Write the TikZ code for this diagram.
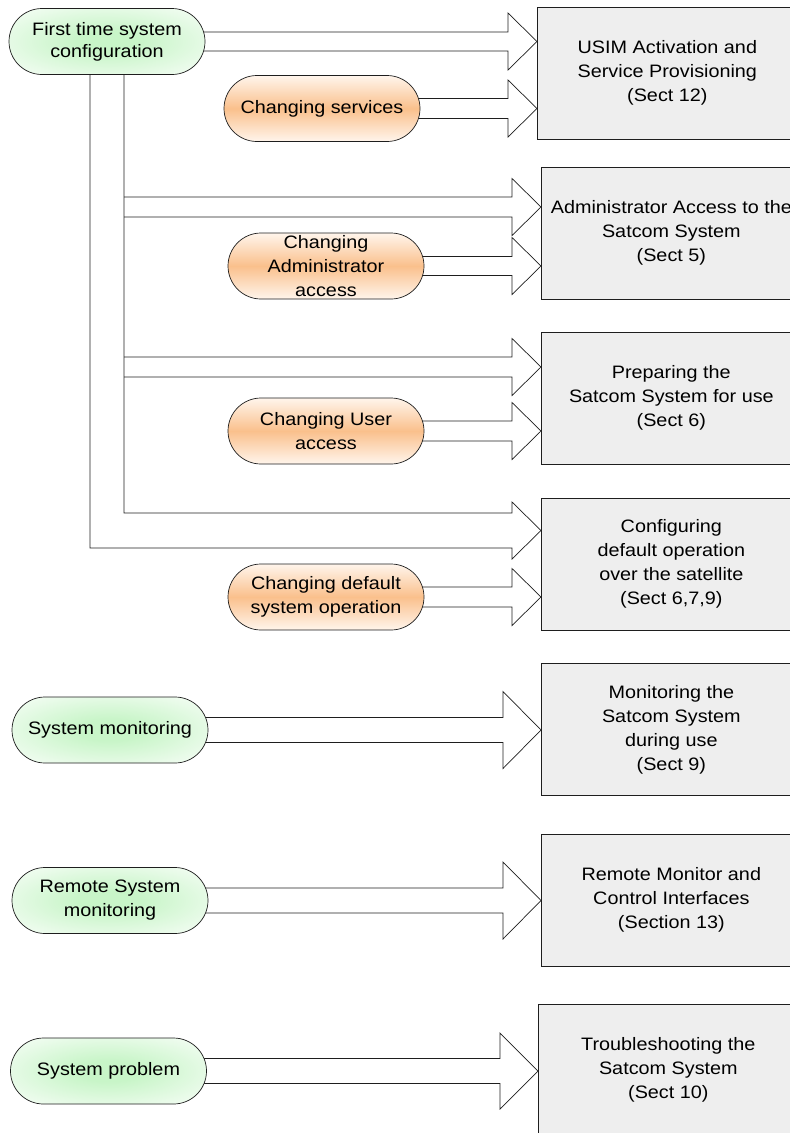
\documentclass[tikz,border=0pt]{standalone}
\usepackage{fontspec}
\setmainfont[FakeStretch=1.1]{Liberation Sans}
\usetikzlibrary{calc,backgrounds}
\definecolor{boxgray}{RGB}{238,238,238}
\definecolor{greenin}{RGB}{200,245,200}
\definecolor{orangemid}{RGB}{250,192,140}
\definecolor{orangeedge}{RGB}{255,245,236}
\definecolor{linec}{RGB}{30,30,30}
\pgfdeclareradialshading{greenglow}{\pgfpoint{0bp}{0bp}}{%
  color(0bp)=(greenin); color(8bp)=(greenin); color(24bp)=(greenin!50!white);
  color(40bp)=(white); color(50bp)=(white)}
\newcommand{\blockarr}[5]{%
  \draw[blk] let \p1=(#1), \p2=(#2.west) in
    (\x1,{\y1+#3pt}) -- ({\x2-#5pt},{\y1+#3pt}) -- ({\x2-#5pt},{\y1+#4pt})
    -- (\x2,\y1) -- ({\x2-#5pt},{\y1-#4pt}) -- ({\x2-#5pt},{\y1-#3pt})
    -- (\x1,{\y1-#3pt});}
\begin{document}
\begin{tikzpicture}[x=1pt,y=-1pt,
  txt/.style={font=\fontsize{18}{24}\selectfont, align=center, text=black},
  startnode/.style={txt, draw=linec, line width=0.7pt, rounded corners=33pt,
    minimum width=196pt, minimum height=66pt, inner sep=0pt,
    shading=greenglow},
  changenode/.style={txt, draw=linec, line width=0.7pt, rounded corners=33pt,
    minimum width=196pt, minimum height=66pt, inner sep=0pt,
    top color=orangeedge, bottom color=orangeedge, middle color=orangemid},
  target/.style={txt, draw=linec, line width=0.7pt, fill=boxgray,
    minimum width=260pt, minimum height=132pt, inner sep=0pt, anchor=west},
  blk/.style={draw=linec, line width=0.7pt, line join=miter}]
\path[use as bounding box, clip] (0,0) rectangle (790,1133);

% target boxes
\node[target] (b1) at (537,73)   {USIM Activation and\\Service Provisioning\\(Sect 12)};
\node[target] (b2) at (541,233)  {Administrator Access to the\\Satcom System\\(Sect 5)};
\node[target] (b3) at (541,398)  {Preparing the\\Satcom System for use\\(Sect 6)};
\node[target] (b4) at (541,564)  {Configuring\\default operation\\over the satellite\\(Sect 6,7,9)};
\node[target] (b5) at (541,729.5){Monitoring the\\Satcom System\\during use\\(Sect 9)};
\node[target] (b6) at (541,900)  {Remote Monitor and\\Control Interfaces\\(Section 13)};
\node[target] (b7) at (538,1070) {Troubleshooting the\\Satcom System\\(Sect 10)};

% start nodes
\node[startnode, font=\fontsize{18}{22}\selectfont] (ftc) at (107,41.5) {First time system\\configuration};
\node[startnode] (mon)  at (110,730)   {System monitoring};
\node[startnode] (rem)  at (110,900.5) {Remote System\\monitoring};
\node[startnode] (prob) at (108.5,1071){System problem};

% change nodes
\node[changenode] (svc)  at (322,108.5) {Changing services};
\node[changenode] (adm)  at (326,266)   {Changing\\Administrator\\access};
\node[changenode] (usr)  at (326,431)   {Changing User\\access};
\node[changenode] (dflt) at (326,597)   {Changing default\\system operation};

\coordinate (sp1) at (124,207);
\coordinate (sp2) at (124,367);
\coordinate (pipe) at (107,530.5);

\begin{scope}[on background layer]
  \blockarr{$(ftc.east)+(-5,0)$}{b1}{9.5}{28.5}{29}
  \blockarr{$(svc.east)+(-5,0)$}{b1}{10}{28.5}{29}
  \blockarr{sp1}{b2}{10}{28.5}{29}
  \blockarr{$(adm.east)+(-5,0)$}{b2}{9.5}{28.5}{29}
  \blockarr{sp2}{b3}{10}{28.5}{29}
  \blockarr{$(usr.east)+(-5,0)$}{b3}{10}{28.5}{29}
  \blockarr{$(dflt.east)+(-5,0)$}{b4}{10}{28.5}{29}
  \blockarr{$(mon.east)+(-5,0)$}{b5}{12.5}{38.5}{38}
  \blockarr{$(rem.east)+(-5,0)$}{b6}{12.5}{38.5}{38}
  \blockarr{$(prob.east)+(-5,0)$}{b7}{12.5}{38}{38}
  \draw[blk] let \p1=($(ftc.south)+(17,0)$), \p2=($(ftc.south)+(-17,0)$),
                 \p3=(b4.west), \p4=(pipe) in
    (\x1,\y1) -- (\x1,{\y4+17.5pt}) -- ({\x3-29pt},{\y4+17.5pt})
    -- ({\x3-29pt},{\y4+28.5pt}) -- (\x3,\y4) -- ({\x3-29pt},{\y4-28.5pt})
    -- ({\x3-29pt},{\y4-17.5pt}) -- (\x2,{\y4-17.5pt}) -- (\x2,\y2);
\end{scope}
\end{tikzpicture}
\end{document}
